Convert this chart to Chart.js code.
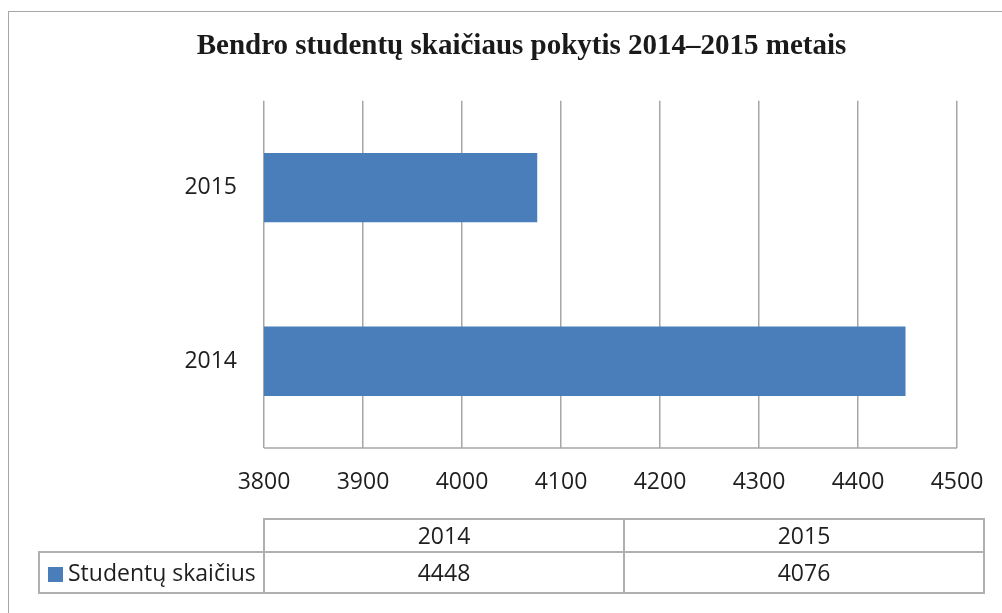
<!DOCTYPE html>
<html>
<head>
<meta charset="utf-8">
<script src="https://cdn.jsdelivr.net/npm/chart.js@4/dist/chart.umd.min.js"></script>
<style>
  html, body { margin: 0; padding: 0; background: #fff; }
  #wrap { position: relative; width: 1002px; height: 613px; overflow: hidden; background: #fff; }
  #frame { position: absolute; left: 8px; top: 11px; width: 1100px; height: 700px; border: 1px solid #a6a6a6; box-sizing: border-box; }
  canvas { position: absolute; left: 0; top: 0; }
  #dt { position: absolute; left: 38px; top: 518px; border-collapse: collapse; font-family: "Open Sans", sans-serif; font-size: 23px; color: #1e1e1e; }
  #dt td { border: 2px solid #b0b0b0; padding: 0; text-align: center; line-height: 1; }
  #dt tr.h td { height: 31px; }
  #dt tr.v td { height: 39px; }
  #dt td.blank { border-top: none; border-left: none; }
  #dt td.leg { text-align: left; padding-left: 8px; white-space: nowrap; }
  .sw { display: inline-block; width: 15px; height: 15px; margin-right: 5px; vertical-align: -1px; }
</style>
</head>
<body>
<div id="wrap">
  <div id="frame"></div>
  <canvas id="c" width="1002" height="613"></canvas>
  <table id="dt"></table>
</div>
<script>
const titleText = 'Bendro studentų skaičiaus pokytis 2014–2015 metais';
const seriesName = 'Studentų skaičius';
const years = ['2014', '2015'];
const students = [4448, 4076];
const xMin = 3800;
const xMax = 4500;
const xStep = 100;
const barColor = '#4a7ebb';

// data table below the chart
const tbl = document.getElementById('dt');
let head = '<tr class="h"><td class="blank" style="width:224px"></td>';
years.forEach(y => { head += '<td style="width:358px">' + y + '</td>'; });
head += '</tr>';
let row = '<tr class="v"><td class="leg"><span class="sw" style="background:' + barColor + '"></span>' + seriesName + '</td>';
students.forEach(v => { row += '<td>' + v + '</td>'; });
row += '</tr>';
tbl.innerHTML = head + row;

new Chart(document.getElementById('c'), {
  type: 'bar',
  data: {
    labels: years,
    datasets: [{
      label: seriesName,
      data: students,
      backgroundColor: barColor,
      borderWidth: 0,
      barPercentage: 1,
      categoryPercentage: 0.4
    }]
  },
  options: {
    indexAxis: 'y',
    responsive: false,
    animation: false,
    events: [],
    layout: { padding: { left: 86, right: 45, top: 0, bottom: 105 } },
    plugins: {
      legend: { display: false },
      tooltip: { enabled: false },
      title: {
        display: true,
        text: titleText,
        color: '#1a1a1a',
        font: { family: '"Liberation Serif", "DejaVu Serif", serif', size: 29, weight: 'bold', lineHeight: 1.2 },
        padding: { top: 29, bottom: 37 }
      }
    },
    scales: {
      x: {
        min: xMin,
        max: xMax,
        border: { display: false },
        grid: { color: '#a6a6a6', lineWidth: 1.5, drawTicks: false },
        ticks: {
          stepSize: xStep,
          padding: 21,
          color: '#1e1e1e',
          font: { family: '"Open Sans", sans-serif', size: 23 },
          callback: v => String(v)
        },
        afterFit: s => { s.height = 60; s.paddingLeft = 0; s.paddingRight = 0; }
      },
      y: {
        reverse: true,
        border: { display: false },
        grid: { display: false, drawTicks: false },
        ticks: {
          padding: 27,
          color: '#1e1e1e',
          font: { family: '"Open Sans", sans-serif', size: 23 }
        },
        afterFit: s => { s.width = 178; }
      }
    }
  },
  plugins: [{
    id: 'baseline',
    afterDatasetsDraw(chart) {
      const a = chart.chartArea, ctx = chart.ctx;
      ctx.save();
      ctx.strokeStyle = '#a6a6a6';
      ctx.lineWidth = 1.5;
      ctx.beginPath();
      ctx.moveTo(a.left, a.bottom);
      ctx.lineTo(a.right, a.bottom);
      ctx.stroke();
      ctx.restore();
    }
  }]
});
</script>
</body>
</html>
